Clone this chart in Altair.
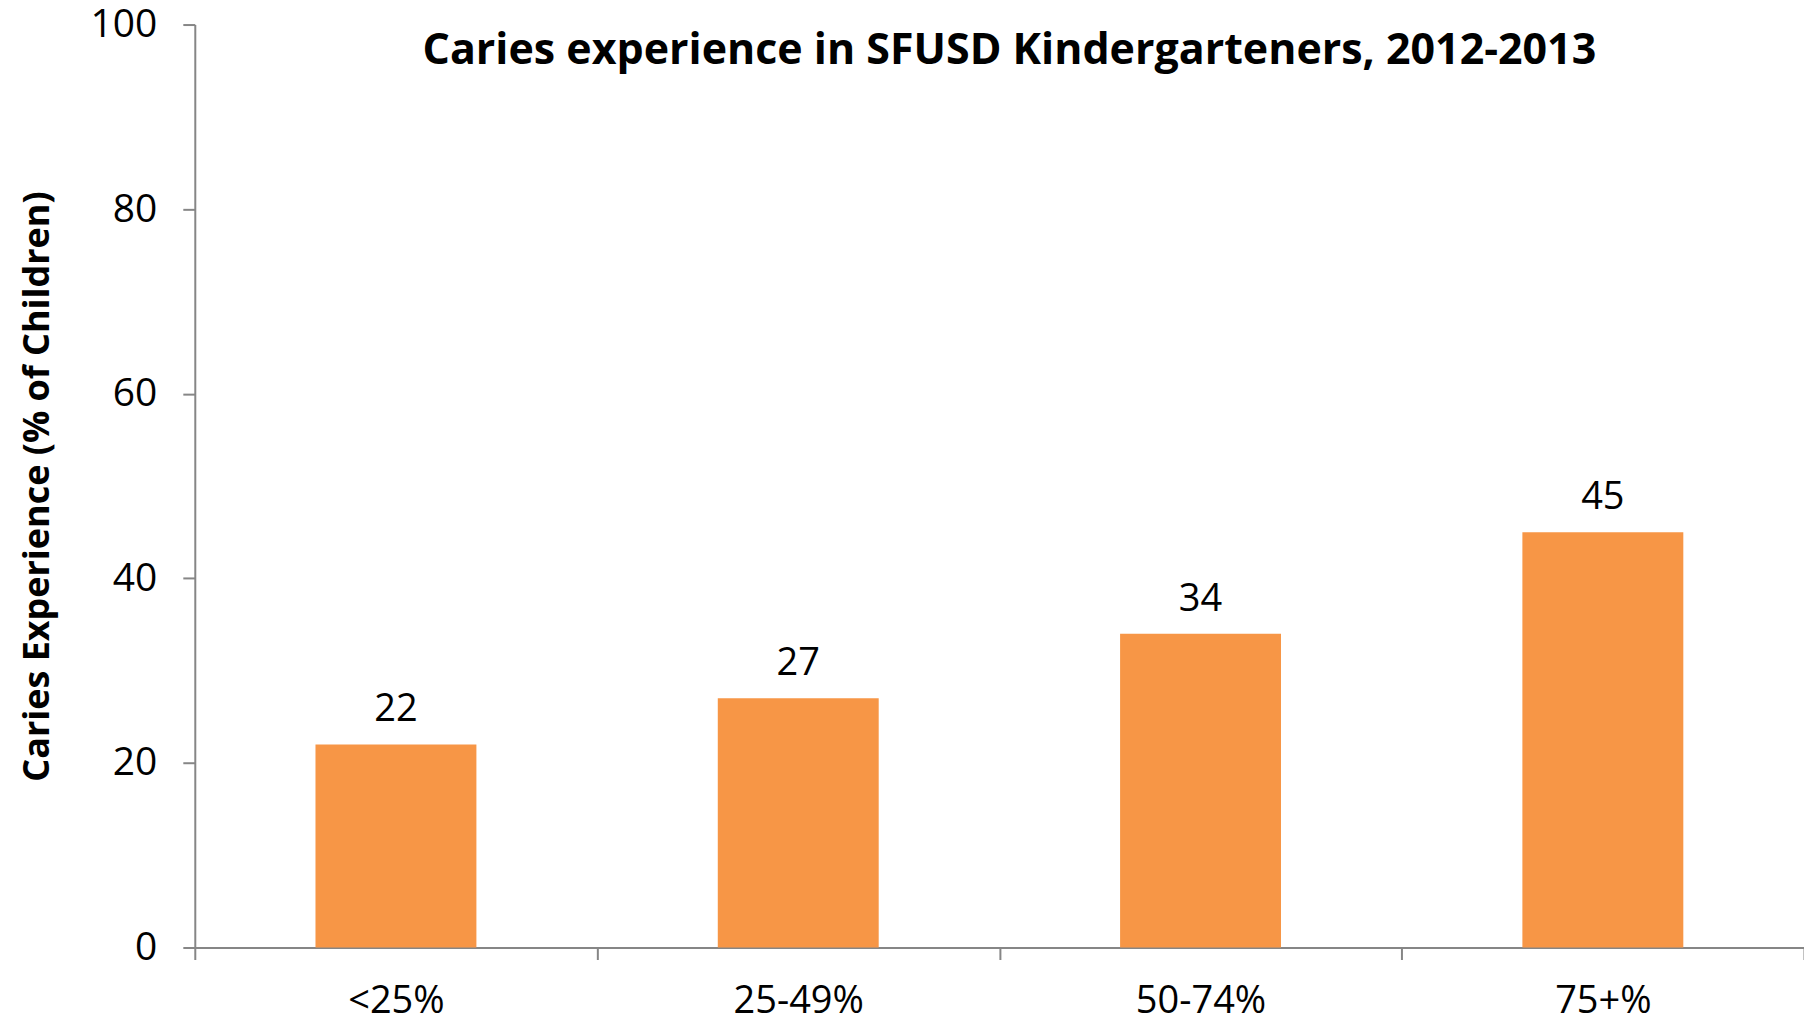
import altair as alt
import pandas as pd

categories = ["<25%", "25-49%", "50-74%", "75+%"]
values = [22, 27, 34, 45]
y_ticks = [0, 20, 40, 60, 80, 100]

df = pd.DataFrame({"cat": categories, "val": values})

FONT = "Open Sans"
AXIS_COLOR = "#868686"

base = alt.Chart(df).encode(
    x=alt.X(
        "cat:N",
        sort=categories,
        scale=alt.Scale(paddingInner=0, paddingOuter=0),
        axis=alt.Axis(
            title=None,
            labelAngle=0,
            tickBand="extent",
            tickSize=12,
            tickColor=AXIS_COLOR,
            domainColor=AXIS_COLOR,
            tickWidth=2,
            domainWidth=2,
            labelFont=FONT,
            labelFontSize=38,
            labelColor="black",
            labelPadding=23,
        ),
    ),
)

bars = base.mark_bar(color="#F79646", width=alt.RelativeBandSize(0.4)).encode(
    y=alt.Y(
        "val:Q",
        scale=alt.Scale(domain=[0, 100], nice=False),
        axis=alt.Axis(
            values=y_ticks,
            title="Caries Experience  (% of Children)",
            titleFont=FONT,
            titleFontSize=36,
            titleFontWeight="bold",
            titleColor="black",
            titleX=-157,
            titleY=462,
            titleBaseline="middle",
            titleAngle=270,
            grid=False,
            tickSize=12,
            tickColor=AXIS_COLOR,
            domainColor=AXIS_COLOR,
            tickWidth=2,
            domainWidth=2,
            labelFont=FONT,
            labelFontSize=39,
            labelColor="black",
            labelPadding=26,
        ),
    )
)

labels = base.mark_text(
    font=FONT, fontSize=38, color="black", baseline="alphabetic", dy=-23
).encode(y="val:Q", text="val:Q")

chart = (
    (bars + labels)
    .properties(
        width=1611,
        height=924,
        autosize=alt.AutoSizeParams(type="none"),
        padding={"left": 187, "top": 16, "right": 0, "bottom": 73},
        title=alt.TitleParams(
            "Caries experience in SFUSD Kindergarteners, 2012-2013",
            font=FONT,
            fontSize=43,
            fontWeight="bold",
            color="black",
            anchor="middle",
            dx=10,
            dy=105,
            baseline="alphabetic",
        ),
    )
    .configure_view(stroke=None)
)

chart.save("out.html", embed_options={"renderer": "svg", "actions": False})
